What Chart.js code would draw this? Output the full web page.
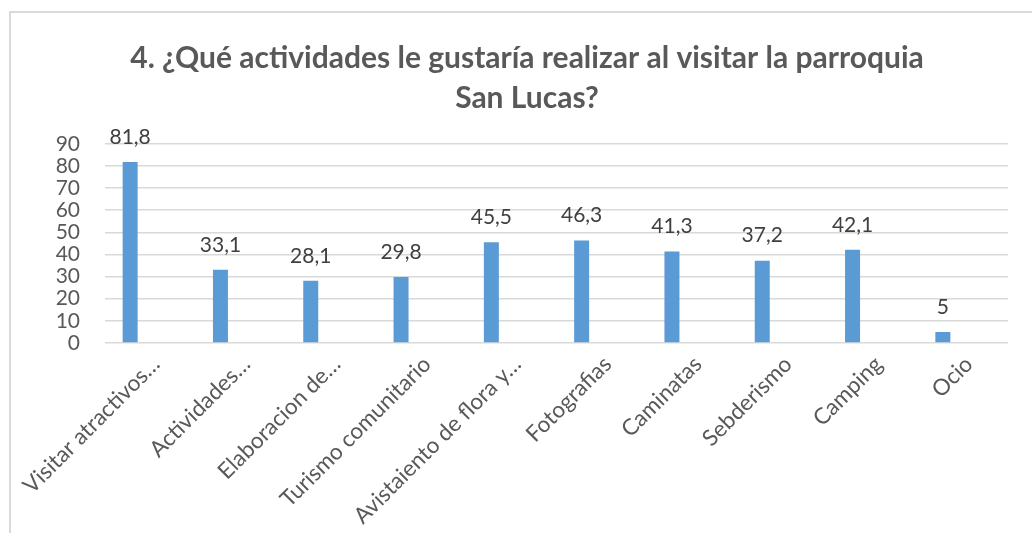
<!DOCTYPE html>
<html>
<head>
<meta charset="utf-8">
<script src="https://cdn.jsdelivr.net/npm/chart.js@4"></script>
<style>
  body { margin: 0; background: #fff; }
  #caja { position: relative; width: 1032px; height: 533px; overflow: hidden; }
  #marco { position: absolute; left: 9px; top: 11px; width: 1100px; height: 600px;
           border-left: 2px solid #d9d9d9; border-top: 2px solid #d9d9d9; }
  canvas { position: absolute; left: 0; top: 0; }
</style>
</head>
<body>
<div id="caja">
  <div id="marco"></div>
  <canvas id="grafico" width="1032" height="533"></canvas>
</div>
<script>
const categorias = [
    'Visitar atractivos…',
    'Actividades…',
    'Elaboracion de…',
    'Turismo comunitario',
    'Avistaiento de flora y…',
    'Fotografias',
    'Caminatas',
    'Sebderismo',
    'Camping',
    'Ocio'
];
const porcentajes = [81.8, 33.1, 28.1, 29.8, 45.5, 46.3, 41.3, 37.2, 42.1, 5];
const vacio = [null, null, null, null, null, null, null, null, null, null];
const titulo = ['4. ¿Qué actividades le gustaría realizar al visitar la parroquia', 'San Lucas?'];

function formatarNumero(v) {
    return String(v).replace('.', ',');
}

// etiquetas encima de cada barra
const etiquetas = {
    id: 'etiquetas',
    afterDatasetsDraw(chart) {
        const ctx = chart.ctx;
        const meta = chart.getDatasetMeta(0);
        ctx.save();
        ctx.font = '21px Lato';
        ctx.fillStyle = '#404040';
        ctx.textAlign = 'center';
        ctx.textBaseline = 'middle';
        meta.data.forEach((barra, i) => {
            ctx.fillText(formatarNumero(porcentajes[i]), barra.x, barra.y - 25);
        });
        ctx.restore();
    }
};

const ctx = document.getElementById('grafico').getContext('2d');
new Chart(ctx, {
    type: 'bar',
    data: {
        labels: categorias,
        datasets: [
            { data: porcentajes, backgroundColor: '#5B9BD5', categoryPercentage: 0.886, barPercentage: 0.375 },
            { data: vacio, backgroundColor: 'rgba(0,0,0,0)', categoryPercentage: 0.886, barPercentage: 0.375 }
        ]
    },
    options: {
        responsive: false,
        animation: false,
        layout: { padding: { left: 46, right: 24, top: 0, bottom: 0 } },
        plugins: {
            legend: { display: false },
            tooltip: { enabled: false },
            title: {
                display: true,
                text: titulo,
                color: '#595959',
                font: { family: 'Lato', size: 30, weight: 'bold', lineHeight: 1.33 },
                padding: { top: 38, bottom: 26 }
            }
        },
        scales: {
            x: {
                grid: { display: false },
                border: { display: false },
                afterFit(scale) { scale.height = 190; },
                ticks: {
                    autoSkip: false,
                    minRotation: 45,
                    maxRotation: 45,
                    padding: 0,
                    labelOffset: 6,
                    color: '#595959',
                    font: { family: 'Lato', size: 22.5 }
                }
            },
            y: {
                min: 0,
                max: 90,
                afterFit(scale) { scale.width = 59; },
                grid: { color: '#d9d9d9', lineWidth: 1.5, drawTicks: false },
                border: { display: false },
                ticks: {
                    autoSkip: false,
                    stepSize: 10,
                    padding: 25,
                    color: '#595959',
                    font: { family: 'Lato', size: 21 }
                }
            }
        }
    },
    plugins: [etiquetas]
});
</script>
</body>
</html>
